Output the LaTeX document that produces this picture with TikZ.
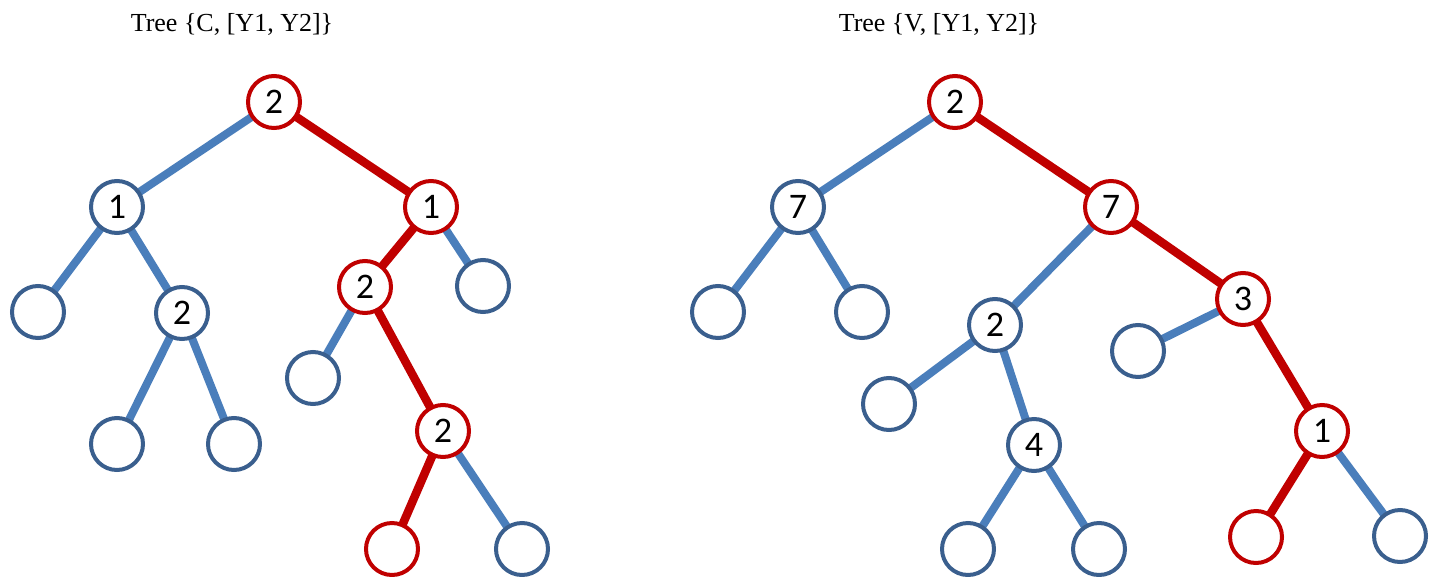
\documentclass[tikz,border=0pt]{standalone}
\usepackage{fontspec}
\setmainfont{Liberation Serif}
\newfontfamily\digitfont{Carlito}
\usetikzlibrary{backgrounds}
\definecolor{edgeblue}{HTML}{4A7EBB}
\definecolor{ringblue}{HTML}{3A5F8E}
\definecolor{treered}{HTML}{C00000}
\tikzset{
  nd/.style={circle, draw, fill=white, line width=4pt, minimum size=52pt, inner sep=0pt, font=\digitfont\fontsize{36}{36}\selectfont},
  bnode/.style={nd, draw=ringblue},
  rnode/.style={nd, draw=treered},
  bedge/.style={draw=edgeblue, line width=8pt},
  redge/.style={draw=treered, line width=8.5pt},
  title/.style={anchor=base, font=\fontsize{26}{26}\selectfont, inner sep=0pt}
}
\begin{document}
\begin{tikzpicture}[x=1pt, y=-1pt]
\useasboundingbox (0,0) rectangle (1440,576);
% titles
\node[title] (t1) at (232,31) {Tree \{C, [Y1, Y2]\}};
\node[title] (t2) at (939,31) {Tree \{V, [Y1, Y2]\}};
% left tree
\node[rnode] (a0) at (274,102) {2};
\node[bnode] (a1) at (117,207) {1};
\node[rnode] (a2) at (431,207) {1};
\node[bnode] (a3) at (38,312) {};
\node[bnode] (a4) at (182,313) {2};
\node[bnode] (a5) at (117,444) {};
\node[bnode] (a6) at (234,444) {};
\node[rnode] (a7) at (365,287) {2};
\node[bnode] (a8) at (483,286) {};
\node[bnode] (a9) at (313,378) {};
\node[rnode] (a10) at (443,431) {2};
\node[rnode] (a11) at (392,549) {};
\node[bnode] (a12) at (522,549) {};
% right tree
\node[rnode] (b0) at (955,102) {2};
\node[bnode] (b1) at (798,207) {7};
\node[rnode] (b2) at (1111,207) {7};
\node[bnode] (b3) at (718,312) {};
\node[bnode] (b4) at (862,312) {};
\node[bnode] (b5) at (995,325) {2};
\node[rnode] (b6) at (1243,299) {3};
\node[bnode] (b7) at (889,404) {};
\node[bnode] (b8) at (1034,445) {4};
\node[bnode] (b9) at (968,549) {};
\node[bnode] (b10) at (1099,549) {};
\node[bnode] (b11) at (1138,351) {};
\node[rnode] (b12) at (1322,431) {1};
\node[rnode] (b13) at (1256,537) {};
\node[bnode] (b14) at (1400,536) {};
\begin{scope}[on background layer]
\path[bedge] (a0.center) -- (a1.center);
\path[redge] (a0.center) -- (a2.center);
\path[bedge] (a1.center) -- (a3.center);
\path[bedge] (a1.center) -- (a4.center);
\path[bedge] (a4.center) -- (a5.center);
\path[bedge] (a4.center) -- (a6.center);
\path[redge] (a2.center) -- (a7.center);
\path[bedge] (a2.center) -- (a8.center);
\path[bedge] (a7.center) -- (a9.center);
\path[redge] (a7.center) -- (a10.center);
\path[redge] (a10.center) -- (a11.center);
\path[bedge] (a10.center) -- (a12.center);
\path[bedge] (b0.center) -- (b1.center);
\path[redge] (b0.center) -- (b2.center);
\path[bedge] (b1.center) -- (b3.center);
\path[bedge] (b1.center) -- (b4.center);
\path[bedge] (b2.center) -- (b5.center);
\path[redge] (b2.center) -- (b6.center);
\path[bedge] (b5.center) -- (b7.center);
\path[bedge] (b5.center) -- (b8.center);
\path[bedge] (b8.center) -- (b9.center);
\path[bedge] (b8.center) -- (b10.center);
\path[bedge] (b6.center) -- (b11.center);
\path[redge] (b6.center) -- (b12.center);
\path[redge] (b12.center) -- (b13.center);
\path[bedge] (b12.center) -- (b14.center);
\end{scope}
\end{tikzpicture}
\end{document}
